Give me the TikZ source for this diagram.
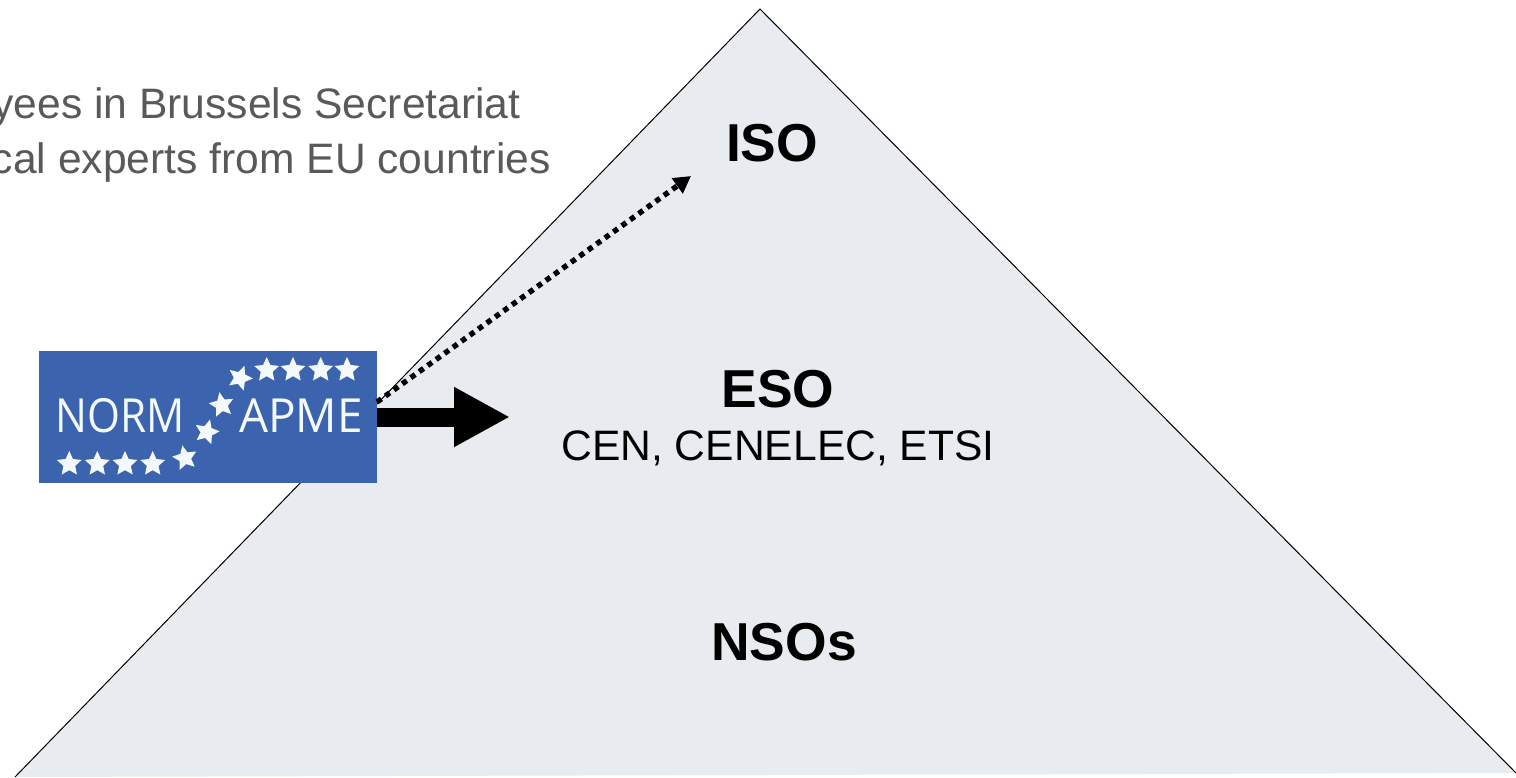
\documentclass[tikz,border=0pt]{standalone}
\usepackage{fontspec}
\setmainfont{Liberation Sans}
\newfontfamily\logofont{Open Sans}
\usetikzlibrary{arrows.meta,shapes.geometric}
\definecolor{pyr}{HTML}{E8EBF0}
\definecolor{logoblue}{HTML}{3C64AE}
\definecolor{greytxt}{HTML}{595959}
\definecolor{starw}{HTML}{F4FAFC}
\tikzset{
  pyramid/.style={draw=black,line width=0.5pt,fill=pyr,line join=miter},
  head/.style={font=\bfseries\fontsize{26.7}{30}\selectfont,text=black,inner sep=0pt},
  sub/.style={font=\fontsize{21.3}{24}\selectfont,text=black,inner sep=0pt},
  note/.style={font=\fontsize{21.3}{24}\selectfont,text=greytxt,inner sep=0pt,anchor=base east},
  logobox/.style={fill=logoblue,minimum width=169pt,minimum height=66pt,inner sep=0pt},
  logotext/.style={font=\logofont\fontsize{23.5}{23.5}\selectfont,text=starw,inner sep=0pt},
  starmark/.style={star,star points=5,star point ratio=2.1,fill=starw,inner sep=0pt,minimum size=13pt},
  bigarrow/.style={line width=9.5pt,-{Triangle[length=28pt,width=28pt]},black},
  dotarrow/.style={line width=2.7pt,dash pattern=on 2.7pt off 2.5pt,-{Triangle[length=8.5pt,width=9pt,sep=0pt]},black}
}
\begin{document}
\begin{tikzpicture}[x=0.5pt,y=-0.5pt]
\useasboundingbox (0,0) rectangle (1516,777);
\clip (0,0) rectangle (1516,777);
\draw[pyramid] (15,777) -- (760,9) -- (1516,773);
\node[note] (n1) at (521,118) {yees in Brussels Secretariat};
\node[note] (n2) at (551,173) {cal experts from EU countries};
\node[logobox] (logo) at (208,417) {};
\node[logotext,xscale=0.9] (norm) at (120,416) {NORM};
\node[logotext,xscale=0.976] (apme) at (301,416) {APME};
\foreach \i/\px/\py/\r in {1/69.3/464/0,2/97.3/464/0,3/125/464/0,4/152.7/464/0,5/185/458/12,6/206.7/432/-15,7/221.7/405/10,8/240/378/-20,9/266.7/370/0,10/293/370/0,11/320.7/370/0,12/347/370/0}
  \node[starmark,rotate=\r] (s\i) at (\px,\py) {};
\coordinate (dotstart) at (377,402);
\coordinate (dotend) at (691,176);
\coordinate (bigend) at (510,417);
\draw[bigarrow] (logo.east) -- (bigend);
\draw[dotarrow] (dotstart) -- (dotend);
\node[head] (iso) at (772,143) {ISO};
\node[head] (eso) at (778,389) {ESO};
\node[sub] (cen) at (778,448) {CEN, CENELEC, ETSI};
\node[head] (nsos) at (784,642) {NSOs};
\end{tikzpicture}
\end{document}
